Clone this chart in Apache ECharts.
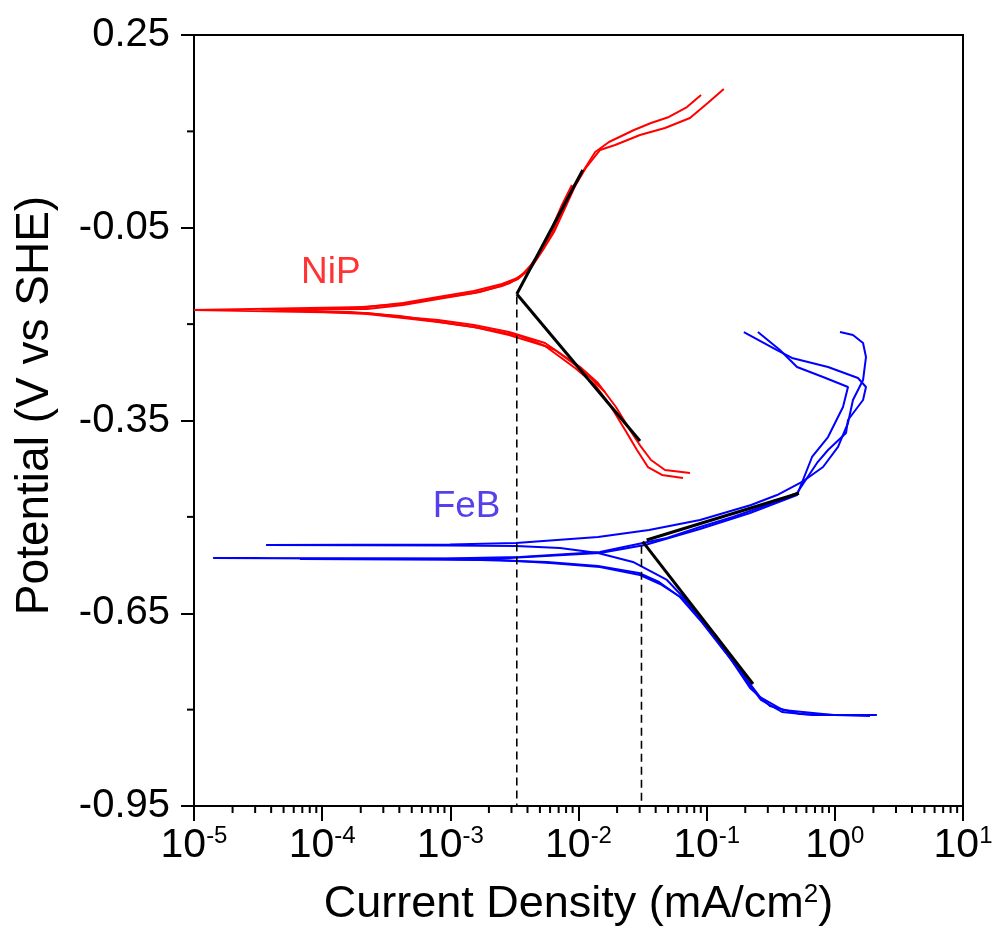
<!DOCTYPE html>
<html>
<head>
<meta charset="utf-8">
<script src="https://cdn.jsdelivr.net/npm/echarts@6/dist/echarts.min.js"></script>
<style>
html,body{margin:0;padding:0;background:#fff;}
#chart{width:995px;height:928px;}
</style>
</head>
<body>
<div id="chart"></div>
<script>
// ---- Data: [current density (mA/cm2), potential (V vs SHE)] ----
const nipScan1 = [[7.41e-2,-0.4317],[4.73e-2,-0.4270],[3.68e-2,-0.4115],[3.08e-2,-0.3912],[2.52e-2,-0.3648],[1.96e-2,-0.3290],[1.42e-2,-0.2916],[1.03e-2,-0.2667],[5.48e-3,-0.2294],[2.87e-3,-0.2123],[1.53e-3,-0.2014],[8.02e-4,-0.1936],[4.28e-4,-0.1889],[2.24e-4,-0.1827],[1.0e-5,-0.1780],[2.24e-4,-0.1733],[4.28e-4,-0.1671],[8.02e-4,-0.1578],[1.53e-3,-0.1484],[2.53e-3,-0.1375],[3.50e-3,-0.1267],[4.26e-3,-0.1080],[5.09e-3,-0.0846],[6.21e-3,-0.0582],[7.57e-3,-0.0224],[9.06e-3,0.0134],[1.10e-2,0.0399],[1.35e-2,0.0679],[1.73e-2,0.0835],[2.71e-2,0.1021],[3.68e-2,0.1130],[5.08e-2,0.1224],[7.02e-2,0.1379],[9.04e-2,0.1566]];
const nipScan2 = [[6.53e-2,-0.4395],[4.48e-2,-0.4348],[3.48e-2,-0.4224],[2.86e-2,-0.3959],[2.31e-2,-0.3648],[1.76e-2,-0.3259],[1.35e-2,-0.2947],[9.40e-3,-0.2683],[5.48e-3,-0.2340],[2.87e-3,-0.2169],[1.53e-3,-0.2045],[8.02e-4,-0.1967],[4.28e-4,-0.1905],[2.24e-4,-0.1842],[3.33e-5,-0.1765],[2.24e-4,-0.1765],[4.28e-4,-0.1702],[8.02e-4,-0.1609],[1.53e-3,-0.1516],[2.53e-3,-0.1407],[3.37e-3,-0.1298],[4.26e-3,-0.1126],[5.28e-3,-0.0846],[6.44e-3,-0.0566],[7.85e-3,-0.0193],[9.40e-3,0.0150],[1.14e-2,0.0430],[1.47e-2,0.0710],[1.93e-2,0.0788],[3.02e-2,0.0944],[4.73e-2,0.1053],[7.41e-2,0.1208],[1.02e-1,0.1442],[1.36e-1,0.1660]];
const nipScan3 = [[1.61e-2,-0.3056],[1.12e-2,-0.2745],[6.56e-3,-0.2403],[3.50e-3,-0.2185],[1.70e-3,-0.2060],[8.29e-4,-0.1967],[4.05e-4,-0.1874],[1.65e-4,-0.1811],[4.69e-5,-0.1780],[1.65e-4,-0.1749],[4.05e-4,-0.1687],[8.29e-4,-0.1593],[1.70e-3,-0.1500],[2.92e-3,-0.1360],[4.04e-3,-0.1158],[5.01e-3,-0.0877],[6.21e-3,-0.0504],[7.43e-3,-0.0146],[8.89e-3,0.0165]];

const febScan1 = [[2.13,-0.8084],[0.968,-0.8084],[0.394,-0.8006],[0.261,-0.7804],[0.207,-0.7539],[0.160,-0.7228],[0.1205,-0.6870],[8.87e-2,-0.6558],[6.53e-2,-0.6247],[4.90e-2,-0.5982],[2.66e-2,-0.5702],[1.42e-2,-0.5562],[7.18e-3,-0.5484],[3.25e-3,-0.5453],[9.93e-4,-0.5446],[3.65e-5,-0.5438],[9.93e-4,-0.5430],[3.25e-3,-0.5407],[1.42e-2,-0.5313],[3.55e-2,-0.5204],[8.87e-2,-0.5049],[0.222,-0.4815],[0.354,-0.4660],[0.555,-0.4457],[0.809,-0.4224],[1.059,-0.3912],[1.267,-0.3539],[1.385,-0.3181],[1.66,-0.2870],[1.75,-0.2512],[1.66,-0.2294],[1.385,-0.2169],[1.097,-0.2123]];
const febScan2 = [[2.09,-0.8084],[0.664,-0.8084],[0.387,-0.8037],[0.265,-0.7850],[0.203,-0.7539],[0.1416,-0.7119],[8.87e-2,-0.6605],[6.19e-2,-0.6247],[4.25e-2,-0.6014],[2.96e-2,-0.5874],[1.42e-2,-0.5765],[5.67e-3,-0.5702],[3.25e-3,-0.5687],[9.08e-4,-0.5656],[1.41e-5,-0.5640],[9.08e-4,-0.5648],[3.50e-3,-0.5625],[1.47e-2,-0.5547],[3.18e-2,-0.5407],[4.90e-2,-0.5329],[8.87e-2,-0.5158],[0.160,-0.5002],[0.296,-0.4815],[0.507,-0.4628],[0.726,-0.4161],[0.885,-0.3959],[1.222,-0.3695],[1.267,-0.3492],[1.66,-0.3181],[1.75,-0.2979],[1.516,-0.2839],[0.885,-0.2667],[0.463,-0.2527],[0.354,-0.2403],[0.195,-0.2123]];
const febScan3 = [[1.88,-0.8099],[0.535,-0.8068],[0.312,-0.7944],[0.218,-0.7663],[0.152,-0.7197],[9.71e-2,-0.6683],[6.78e-2,-0.6294],[4.33e-2,-0.6045],[3.02e-2,-0.5905],[1.47e-2,-0.5780],[6.0e-3,-0.5718],[2.44e-3,-0.5671],[6.7e-5,-0.5656],[2.44e-3,-0.5648],[1.47e-2,-0.5562],[3.30e-2,-0.5438],[8.87e-2,-0.5189],[0.218,-0.4940],[0.507,-0.4660],[0.664,-0.4068],[0.885,-0.3757],[1.158,-0.3290],[1.267,-0.2979],[0.809,-0.2823],[0.507,-0.2667],[0.373,-0.2403],[0.251,-0.2123]];

// Tafel fit lines and corrosion current markers
const nipAnodicFit = [[3.3e-3,-0.1531],[1.08e-2,0.0399]];
const nipCathodicFit = [[3.3e-3,-0.1531],[3.02e-2,-0.3819]];
const nipIcorrLine = [[3.3e-3,-0.157],[3.3e-3,-0.95]];
const febAnodicFit = [[3.40e-2,-0.5360],[0.525,-0.4633]];
const febCathodicFit = [[3.17e-2,-0.5386],[0.230,-0.7601]];
const febIcorrLine = [[3.1e-2,-0.545],[3.1e-2,-0.95]];

// Annotation positions
const nipLabelPos = [[1.17e-4,-0.1200]];
const febLabelPos = [[1.34e-3,-0.4839]];

// Axis ticks
const xMin = 1e-5, xMax = 10;
const yMin = -0.95, yMax = 0.25;
const yTickValues = [-0.95,-0.65,-0.35,-0.05,0.25];
const yMinorTickValues = [-0.8,-0.5,-0.2,0.1];
const xMinorTickValues = [2e-5,3e-5,4e-5,5e-5,6e-5,7e-5,8e-5,9e-5,
  2e-4,3e-4,4e-4,5e-4,6e-4,7e-4,8e-4,9e-4,
  2e-3,3e-3,4e-3,5e-3,6e-3,7e-3,8e-3,9e-3,
  2e-2,3e-2,4e-2,5e-2,6e-2,7e-2,8e-2,9e-2,
  2e-1,3e-1,4e-1,5e-1,6e-1,7e-1,8e-1,9e-1,
  2,3,4,5,6,7,8,9];

const FONT = "'Liberation Sans', Arial, sans-serif";
const RED = '#ff0000', BLUE = '#0000ff', FEB_TEXT = '#2a10e6';

function curve(data, color, w) {
  return { type:'line', data:data, showSymbol:false, symbol:'none', silent:true,
    lineStyle:{color:color, width:w || 2}, z:2 };
}
function fit(data) {
  return { type:'line', data:data, showSymbol:false, symbol:'none', silent:true,
    lineStyle:{color:'#000', width:3}, z:5 };
}
function dashed(data) {
  return { type:'line', data:data, showSymbol:false, symbol:'none', silent:true,
    lineStyle:{color:'#000', width:1.6, type:[8,5]}, z:4 };
}

const chart = echarts.init(document.getElementById('chart'), null, {renderer:'canvas'});
chart.setOption({
  animation:false,
  backgroundColor:'#fff',
  grid:{left:194, right:32, top:35, bottom:122, show:true, borderColor:'#000', borderWidth:2,
    backgroundColor:'transparent', containLabel:false, outerBoundsMode:'none'},
  xAxis:{
    type:'log', logBase:10, min:xMin, max:xMax,
    name:'Current Density (mA/cm{sup|2})', nameLocation:'middle', nameGap:76,
    nameTextStyle:{fontFamily:FONT, fontSize:45, color:'#000',
      rich:{sup:{fontFamily:FONT, fontSize:26, color:'#000', verticalAlign:'top', lineHeight:22}}},
    axisLine:{show:true, onZero:false, lineStyle:{color:'#000', width:2}},
    axisTick:{show:true, inside:false, length:15, lineStyle:{color:'#000', width:2}},
    minorTick:{show:false},
    splitLine:{show:false},
    axisLabel:{margin:18, formatter:function(v){
        const e = Math.round(Math.log10(v));
        return '{b|10}{s|' + e + '}';
      },
      rich:{
        b:{fontFamily:FONT, fontSize:41, color:'#000', lineHeight:44},
        s:{fontFamily:FONT, fontSize:24, color:'#000', verticalAlign:'top', lineHeight:20}
      }
    }
  },
  yAxis:{
    type:'value', min:yMin, max:yMax,
    name:'Potential (V vs SHE)', nameLocation:'middle', nameGap:136, nameRotate:90,
    nameTextStyle:{fontFamily:FONT, fontSize:46, color:'#000', padding:[0,0,0,30]},
    axisLine:{show:true, onZero:false, lineStyle:{color:'#000', width:2}},
    axisTick:{show:true, inside:false, length:13, lineStyle:{color:'#000', width:2}, customValues:yTickValues},
    splitLine:{show:false},
    axisLabel:{margin:24, fontFamily:FONT, fontSize:40, color:'#000', customValues:yTickValues,
      formatter:function(v){ return v.toFixed(2); }}
  },
  series:[
    curve(nipScan3, RED), curve(nipScan2, RED), curve(nipScan1, RED),
    curve(febScan3, BLUE), curve(febScan2, BLUE), curve(febScan1, BLUE),
    dashed(nipIcorrLine), dashed(febIcorrLine),
    fit(nipAnodicFit), fit(nipCathodicFit), fit(febAnodicFit), fit(febCathodicFit),
    { type:'scatter', data:nipLabelPos, symbolSize:0, silent:true, z:6,
      label:{show:true, position:'inside', formatter:'NiP', fontFamily:FONT, fontSize:37, color:RED}},
    { type:'scatter', data:febLabelPos, symbolSize:0, silent:true, z:6,
      label:{show:true, position:'inside', formatter:'FeB', fontFamily:FONT, fontSize:37, color:FEB_TEXT}},
    { type:'custom', silent:true, clip:false, z:10,
      data:xMinorTickValues.map(function(v){ return [v, yMin]; }),
      renderItem:function(params, api){
        const p = api.coord([api.value(0), api.value(1)]);
        return {type:'line', shape:{x1:p[0], y1:p[1], x2:p[0], y2:p[1]+7},
          style:{stroke:'#000', lineWidth:2}};
      }},
    { type:'custom', silent:true, clip:false, z:10,
      data:yMinorTickValues.map(function(v){ return [xMin, v]; }),
      renderItem:function(params, api){
        const p = api.coord([api.value(0), api.value(1)]);
        return {type:'line', shape:{x1:p[0], y1:p[1], x2:p[0]-7, y2:p[1]},
          style:{stroke:'#000', lineWidth:2}};
      }}
  ]
});
</script>
</body>
</html>
